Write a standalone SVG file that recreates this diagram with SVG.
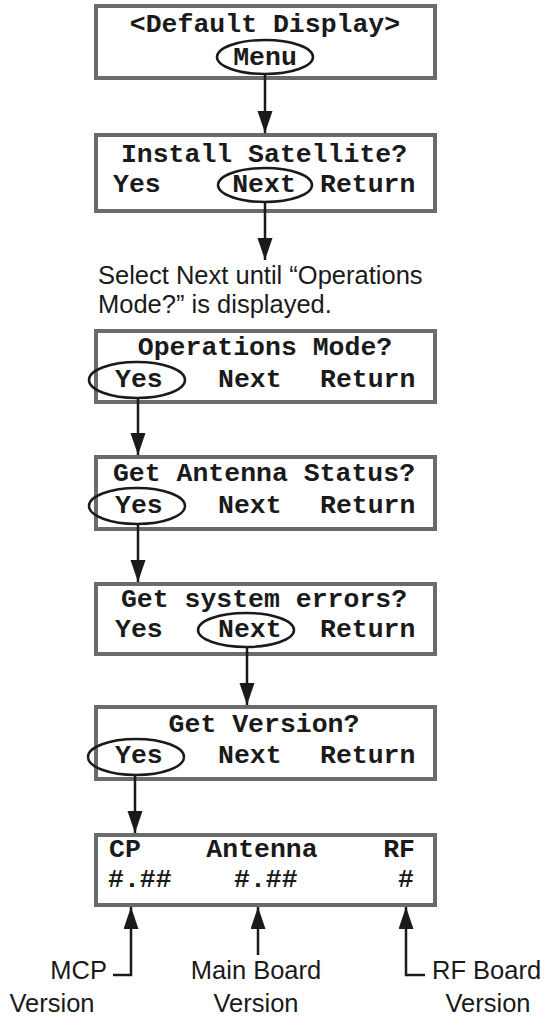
<svg xmlns="http://www.w3.org/2000/svg" width="550" height="1017" viewBox="0 0 550 1017">
<defs>
<style>
.box{fill:#fff;stroke:#6b6b6b;stroke-width:4}
.sel{fill:none;stroke:#1a1a1a;stroke-width:2.5}
.lcd{font-family:"Liberation Mono","Courier New",monospace;font-weight:bold;font-size:26.5px;fill:#1a1a1a}
.c{text-anchor:middle}
.e{text-anchor:end}
.lbl{font-family:"Liberation Sans",Arial,Helvetica,sans-serif;font-size:25.5px;fill:#1a1a1a}
.con{fill:none;stroke:#1a1a1a;stroke-width:2.5}
</style>
<marker id="ah" markerUnits="userSpaceOnUse" markerWidth="24" markerHeight="16" refX="22" refY="7.5" orient="auto" viewBox="0 0 24 16">
<path d="M0,0 L22,7.5 L0,15 z" fill="#1a1a1a"/>
</marker>
</defs>
<rect width="550" height="1017" fill="#fff"/>

<g id="node-default">
<rect class="box" x="96" y="6" width="339" height="72"/>
<text class="lcd c" x="265" y="32">&lt;Default Display&gt;</text>
<ellipse class="sel" cx="265" cy="57" rx="48" ry="17"/>
<text class="lcd c" x="265" y="65">Menu</text>
</g>

<g id="node-install">
<rect class="box" x="96" y="135" width="339" height="76"/>
<text class="lcd c" x="264" y="162">Install Satellite?</text>
<text class="lcd" x="113" y="192">Yes</text>
<ellipse class="sel" cx="265" cy="185" rx="47" ry="17"/>
<text class="lcd c" x="264" y="192">Next</text>
<text class="lcd" x="320" y="192">Return</text>
</g>

<g id="note">
<text class="lbl" x="98" y="284">Select Next until “Operations</text>
<text class="lbl" x="98" y="313">Mode?” is displayed.</text>
</g>

<g id="node-operations">
<rect class="box" x="96" y="331" width="339" height="71"/>
<text class="lcd c" x="265" y="355">Operations Mode?</text>
<ellipse class="sel" cx="137" cy="380" rx="48" ry="18"/>
<text class="lcd" x="115" y="387">Yes</text>
<text class="lcd" x="218" y="387">Next</text>
<text class="lcd" x="320" y="387">Return</text>
</g>

<g id="node-antenna">
<rect class="box" x="96" y="457" width="339" height="72"/>
<text class="lcd c" x="264" y="481">Get Antenna Status?</text>
<ellipse class="sel" cx="137" cy="506" rx="48" ry="18"/>
<text class="lcd" x="115" y="513">Yes</text>
<text class="lcd" x="218" y="513">Next</text>
<text class="lcd" x="320" y="513">Return</text>
</g>

<g id="node-errors">
<rect class="box" x="96" y="584" width="339" height="70"/>
<text class="lcd c" x="264" y="607">Get system errors?</text>
<text class="lcd" x="115" y="637">Yes</text>
<ellipse class="sel" cx="246" cy="630" rx="48" ry="17"/>
<text class="lcd" x="218" y="637">Next</text>
<text class="lcd" x="320" y="637">Return</text>
</g>

<g id="node-version">
<rect class="box" x="96" y="707" width="339" height="72"/>
<text class="lcd c" x="264" y="732">Get Version?</text>
<ellipse class="sel" cx="136" cy="757" rx="48" ry="18"/>
<text class="lcd" x="115" y="763">Yes</text>
<text class="lcd" x="218" y="763">Next</text>
<text class="lcd" x="320" y="763">Return</text>
</g>

<g id="node-result">
<rect class="box" x="96" y="835" width="339" height="70"/>
<text class="lcd" x="109" y="857">CP</text>
<text class="lcd c" x="262" y="857">Antenna</text>
<text class="lcd e" x="415" y="857">RF</text>
<text class="lcd" x="108" y="887">#.##</text>
<text class="lcd" x="234" y="887">#.##</text>
<text class="lcd" x="398" y="887">#</text>
</g>

<g id="labels">
<text class="lbl e" x="107" y="979">MCP</text>
<text class="lbl c" x="52" y="1012">Version</text>
<text class="lbl c" x="256" y="979">Main Board</text>
<text class="lbl c" x="256" y="1012">Version</text>
<text class="lbl" x="432" y="979">RF Board</text>
<text class="lbl c" x="488" y="1012">Version</text>
</g>

<g id="connectors">
<line class="con" x1="265" y1="74" x2="265" y2="133" marker-end="url(#ah)"/>
<line class="con" x1="265" y1="202" x2="265" y2="260" marker-end="url(#ah)"/>
<line class="con" x1="138" y1="398" x2="138" y2="455" marker-end="url(#ah)"/>
<line class="con" x1="138" y1="524" x2="138" y2="582" marker-end="url(#ah)"/>
<line class="con" x1="247" y1="647" x2="247" y2="705" marker-end="url(#ah)"/>
<line class="con" x1="135" y1="775" x2="135" y2="833" marker-end="url(#ah)"/>
<polyline class="con" points="113,975 131,975 131,907" marker-end="url(#ah)"/>
<line class="con" x1="258" y1="955" x2="258" y2="907" marker-end="url(#ah)"/>
<polyline class="con" points="425,975 406,975 406,907" marker-end="url(#ah)"/>
</g>
</svg>
